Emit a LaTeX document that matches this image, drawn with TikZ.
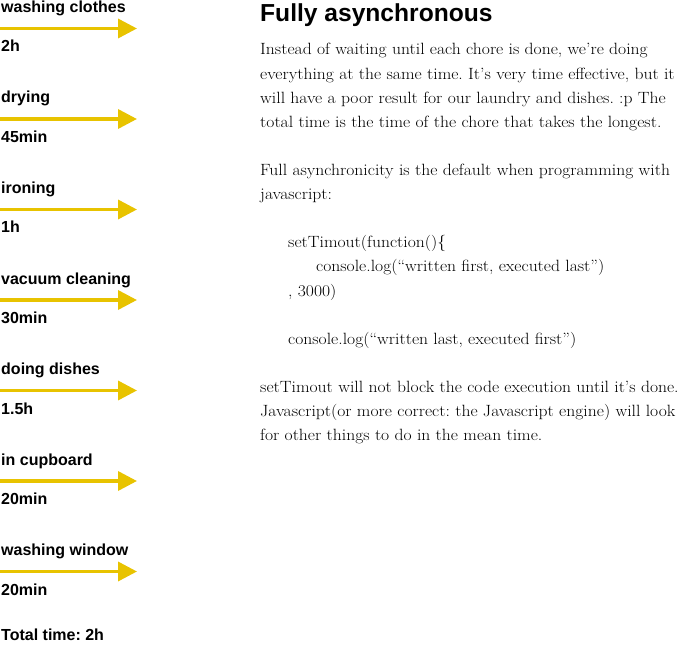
\documentclass[tikz,border=0pt]{standalone}
\usepackage{fontspec}
\newfontfamily\hv{Liberation Sans}
\newfontfamily\bod{Latin Modern Roman}[FakeStretch=1.08]
\definecolor{chore}{HTML}{E8C300}
\usetikzlibrary{arrows.meta}
\frenchspacing
\begin{document}
\begin{tikzpicture}[x=1pt,y=-1pt,
  lbl/.style={anchor=base west,inner sep=0pt,font=\hv\bfseries\fontsize{16}{18}\selectfont},
  body/.style={anchor=base west,inner sep=0pt,font=\bod\fontsize{16.3}{18}\selectfont},
  ttl/.style={anchor=base west,inner sep=0pt,font=\hv\bfseries\fontsize{24.6}{28}\selectfont},
  chorearrow/.style={draw=chore,line width=3.5pt,-{Triangle[length=19pt,width=19pt]}}]
\useasboundingbox (0,0) rectangle (683,647);
% chores
\foreach \i/\name/\dur in {0/washing clothes/2h,1/drying/45min,2/ironing/1h,3/vacuum cleaning/30min,4/doing dishes/1.5h,5/in cupboard/20min,6/washing window/20min}{
  \pgfmathsetmacro{\yy}{28.5+90.5*\i}
  \node[lbl] (n\i) at (1,\yy-16) {\name};
  \coordinate (s\i) at (0,\yy);
  \coordinate (e\i) at (137,\yy);
  \draw[chorearrow] (s\i) -- (e\i);
  \node[lbl] (d\i) at (1,\yy+23.5) {\dur};
}
\node[lbl] (total) at (1,640) {Total time: 2h};
% right column
\node[ttl] (title) at (260,22) {Fully asynchronous};
\def\b{55}\def\s{24.1}
\node[body] (l0) at (260,\b) {Instead of waiting until each chore is done, we’re doing};
\node[body] (l1) at (260,\b+\s) {everything at the same time. It’s very time effective, but it};
\node[body] (l2) at (260,\b+2*\s) {will have a poor result for our laundry and dishes. :p The};
\node[body] (l3) at (260,\b+3*\s) {total time is the time of the chore that takes the longest.};
\node[body] (l5) at (260,\b+5*\s) {Full asynchronicity is the default when programming with};
\node[body] (l6) at (260,\b+6*\s) {javascript:};
\node[body] (l8) at (288,\b+8*\s) {setTimout(function()\{};
\node[body] (l9) at (316,\b+9*\s) {console.log(“written first, executed last”)};
\node[body] (l10) at (288,\b+10*\s) {, 3000)};
\node[body] (l12) at (288,\b+12*\s) {console.log(“written last, executed first”)};
\node[body] (l14) at (260,\b+14*\s) {setTimout will not block the code execution until it’s done.};
\node[body] (l15) at (260,\b+15*\s) {Javascript(or more correct: the Javascript engine) will look};
\node[body] (l16) at (260,\b+16*\s) {for other things to do in the mean time.};
\end{tikzpicture}
\end{document}
